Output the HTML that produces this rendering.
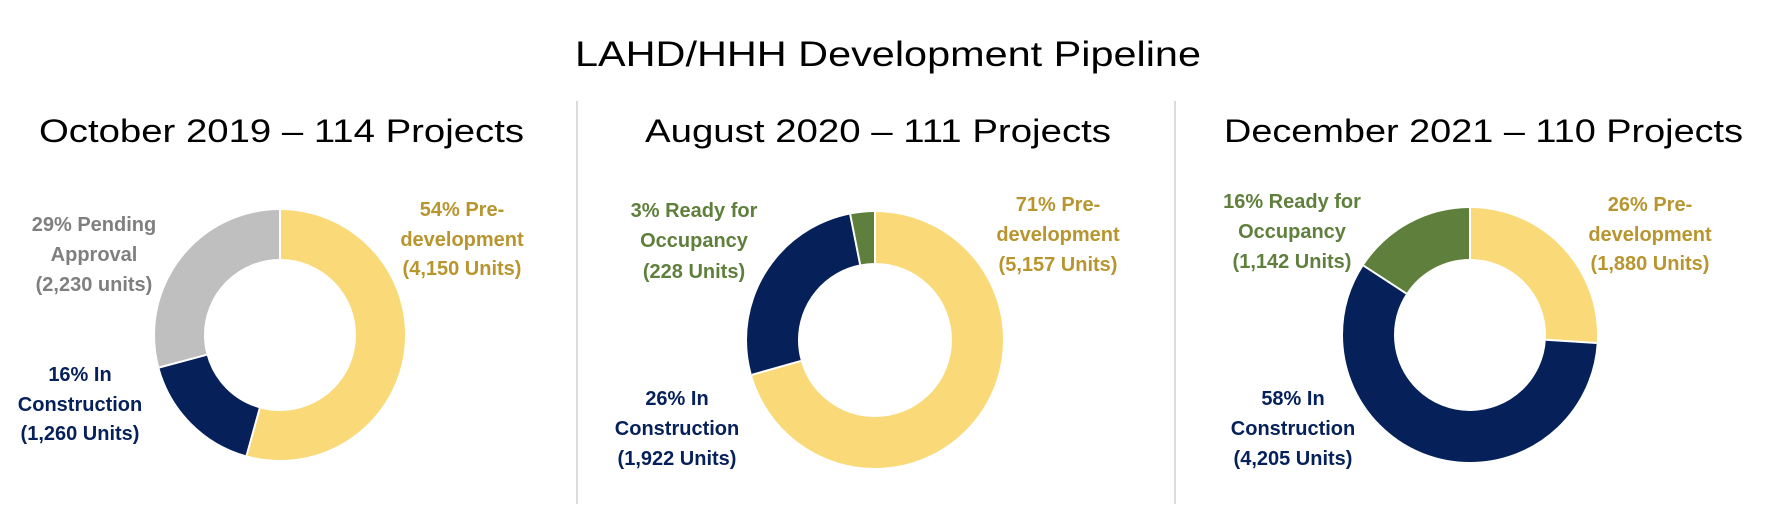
<!DOCTYPE html>
<html><head><meta charset="utf-8"><style>
html,body{margin:0;padding:0;background:#fff;}
svg{display:block;}
text{font-family:"Liberation Sans",sans-serif;}
.l{font-size:20px;font-weight:bold;text-anchor:middle;}
</style></head><body>
<svg width="1766" height="528" viewBox="0 0 1766 528">
<text x="888" y="66" font-size="35" text-anchor="middle" textLength="626" lengthAdjust="spacingAndGlyphs">LAHD/HHH Development Pipeline</text>
<line x1="577" y1="101" x2="577" y2="504" stroke="#d0d0d0" stroke-width="1.5"/>
<line x1="1175" y1="101" x2="1175" y2="504" stroke="#d0d0d0" stroke-width="1.5"/>
<text x="39" y="142" font-size="32" textLength="485" lengthAdjust="spacingAndGlyphs">October 2019 – 114 Projects</text>
<text x="645" y="142" font-size="32" textLength="466" lengthAdjust="spacingAndGlyphs">August 2020 – 111 Projects</text>
<text x="1224" y="142" font-size="32" textLength="519" lengthAdjust="spacingAndGlyphs">December 2021 – 110 Projects</text>

<g transform="translate(280,335) rotate(-90)" fill="none" stroke-width="49">
<circle r="100.5" stroke="#F9D978" stroke-dasharray="342.9 700" stroke-dashoffset="0"/>
<circle r="100.5" stroke="#06215A" stroke-dasharray="104.2 700" stroke-dashoffset="-342.9"/>
<circle r="100.5" stroke="#BFBFBF" stroke-dasharray="184.4 700" stroke-dashoffset="-447.1"/>
</g>
<g stroke="#fff" stroke-width="2">
<line x1="280" y1="259" x2="280" y2="210"/>
<line x1="259.7" y1="408.3" x2="246.6" y2="455.5"/>
<line x1="206.6" y1="354.8" x2="159.2" y2="367.5"/>
</g>

<g transform="translate(875,340) rotate(-90)" fill="none" stroke-width="51">
<circle r="102.5" stroke="#F9D978" stroke-dasharray="454.7 700" stroke-dashoffset="0"/>
<circle r="102.5" stroke="#06215A" stroke-dasharray="169.4 700" stroke-dashoffset="-454.7"/>
<circle r="102.5" stroke="#5F803C" stroke-dasharray="20 700" stroke-dashoffset="-624.1"/>
</g>
<g stroke="#fff" stroke-width="2">
<line x1="875" y1="263" x2="875" y2="212"/>
<line x1="800.9" y1="360.9" x2="751.9" y2="374.8"/>
<line x1="860.1" y1="264.5" x2="850.2" y2="214.4"/>
</g>

<g transform="translate(1470,335) rotate(-90)" fill="none" stroke-width="51">
<circle r="101.5" stroke="#F9D978" stroke-dasharray="165.8 700" stroke-dashoffset="0"/>
<circle r="101.5" stroke="#06215A" stroke-dasharray="371.1 700" stroke-dashoffset="-165.8"/>
<circle r="101.5" stroke="#5F803C" stroke-dasharray="100.8 700" stroke-dashoffset="-536.9"/>
</g>
<g stroke="#fff" stroke-width="2">
<line x1="1470" y1="259" x2="1470" y2="208"/>
<line x1="1545.8" y1="339.8" x2="1596.7" y2="343"/>
<line x1="1406.3" y1="293.5" x2="1363.6" y2="265.7"/>
</g>

<g fill="#B8952E">
<text class="l" x="462" y="216">54% Pre-</text>
<text class="l" x="462" y="246">development</text>
<text class="l" x="462" y="275">(4,150 Units)</text>
</g>
<g fill="#7F7F7F">
<text class="l" x="94" y="231">29% Pending</text>
<text class="l" x="94" y="261">Approval</text>
<text class="l" x="94" y="291">(2,230 units)</text>
</g>
<g fill="#06215A">
<text class="l" x="80" y="381">16% In</text>
<text class="l" x="80" y="411">Construction</text>
<text class="l" x="80" y="440">(1,260 Units)</text>
</g>

<g fill="#5F803C">
<text class="l" x="694" y="217">3% Ready for</text>
<text class="l" x="694" y="247">Occupancy</text>
<text class="l" x="694" y="278">(228 Units)</text>
</g>
<g fill="#B8952E">
<text class="l" x="1058" y="211">71% Pre-</text>
<text class="l" x="1058" y="241">development</text>
<text class="l" x="1058" y="271">(5,157 Units)</text>
</g>
<g fill="#06215A">
<text class="l" x="677" y="405">26% In</text>
<text class="l" x="677" y="435">Construction</text>
<text class="l" x="677" y="465">(1,922 Units)</text>
</g>

<g fill="#5F803C">
<text class="l" x="1292" y="208">16% Ready for</text>
<text class="l" x="1292" y="238">Occupancy</text>
<text class="l" x="1292" y="268">(1,142 Units)</text>
</g>
<g fill="#B8952E">
<text class="l" x="1650" y="211">26% Pre-</text>
<text class="l" x="1650" y="241">development</text>
<text class="l" x="1650" y="270">(1,880  Units)</text>
</g>
<g fill="#06215A">
<text class="l" x="1293" y="405">58% In</text>
<text class="l" x="1293" y="435">Construction</text>
<text class="l" x="1293" y="465">(4,205 Units)</text>
</g>
</svg>
</body></html>
